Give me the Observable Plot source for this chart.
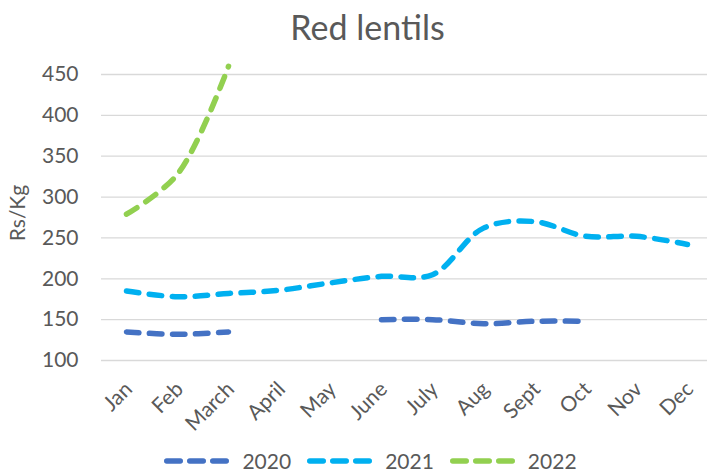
<!DOCTYPE html>
<html>
<head>
<meta charset="utf-8">
<script src="https://cdn.jsdelivr.net/npm/d3@7"></script>
<script src="https://cdn.jsdelivr.net/npm/@observablehq/plot@0.6"></script>
<style>
  html, body { margin: 0; padding: 0; background: #fff; }
  body { width: 707px; height: 472px; overflow: hidden; font-family: Lato, sans-serif; color: #595959; }
  #title { box-sizing: border-box; height: 55px; padding-top: 6px; padding-left: 28px; text-align: center; font-size: 34px; line-height: normal; }
  #legend { display: flex; justify-content: center; align-items: center; padding-left: 34px; height: 22px; margin-top: 10px; font-size: 21px; line-height: 22px; }
  #legend .item { display: flex; align-items: center; margin: 0 8px; height: 22px; }
  #legend svg { margin-right: 13px; }
</style>
</head>
<body>
<div id="title">Red lentils</div>
<div id="chart"></div>
<div id="legend"></div>
<script>
const months = ["Jan","Feb","March","April","May","June","July","Aug","Sept","Oct","Nov","Dec"];
const years = ["2020","2021","2022"];
const colors = ["#4472C4","#00B0F0","#92D050"];
const prices2020 = [135,132,135,null,null,150,150,145,148,148,null,null];
const prices2021 = [185,178,182,186,195,203,205,262,270,252,252,242];
const prices2022 = [279,328,460,null,null,null,null,null,null,null,null,null];
const yTicks = [100,150,200,250,300,350,400,450];
const yLabel = "Rs/Kg";

const series = {"2020": prices2020, "2021": prices2021, "2022": prices2022};
const data = [];
for (const yr of years) {
  series[yr].forEach((v, i) => data.push({year: yr, month: months[i], price: v}));
}

const plot = Plot.plot({
  width: 707,
  height: 385,
  marginTop: 19,
  marginBottom: 80,
  marginLeft: 101,
  marginRight: 0,
  style: {fontFamily: "Lato, sans-serif", color: "#595959", background: "white", overflow: "visible"},
  x: {type: "point", domain: months, range: [125, 688], padding: 0, axis: null},
  y: {domain: [100, 450]},
  color: {domain: years, range: colors},
  marks: [
    Plot.ruleY(yTicks, {stroke: "#d9d9d9", strokeWidth: 1.3}),
    Plot.axisY({ticks: yTicks, tickSize: 0, tickPadding: 23, fontSize: 21, label: null}),
    Plot.text([yLabel], {frameAnchor: "left", rotate: -90, dx: -91, dy: -4.5, fontSize: 21,
      textAnchor: "middle", lineAnchor: "top", fill: "#595959"}),
    Plot.text(months, {x: d => d, frameAnchor: "bottom", rotate: -45, dx: 7, dy: 30, fontSize: 21,
      textAnchor: "end", lineAnchor: "bottom", fill: "#595959"}),
    Plot.line(data, {x: "month", y: "price", z: "year", stroke: "year", strokeWidth: 5.5,
      strokeDasharray: "12.5,10.5", strokeLinecap: "round", curve: "catmull-rom"})
  ]
});
document.getElementById("chart").appendChild(plot);

const colorScale = plot.scale("color");
const legend = document.getElementById("legend");
for (const yr of years) {
  const item = document.createElement("div");
  item.className = "item";
  const c = d3.scaleOrdinal(colorScale.domain, colorScale.range)(yr);
  item.innerHTML = `<svg width="65" height="10"><line x1="2.75" x2="62.25" y1="5" y2="5" stroke="${c}" stroke-width="5.5" stroke-linecap="round" stroke-dasharray="13.5,9.5"/></svg><span>${yr}</span>`;
  legend.appendChild(item);
}
</script>
</body>
</html>
